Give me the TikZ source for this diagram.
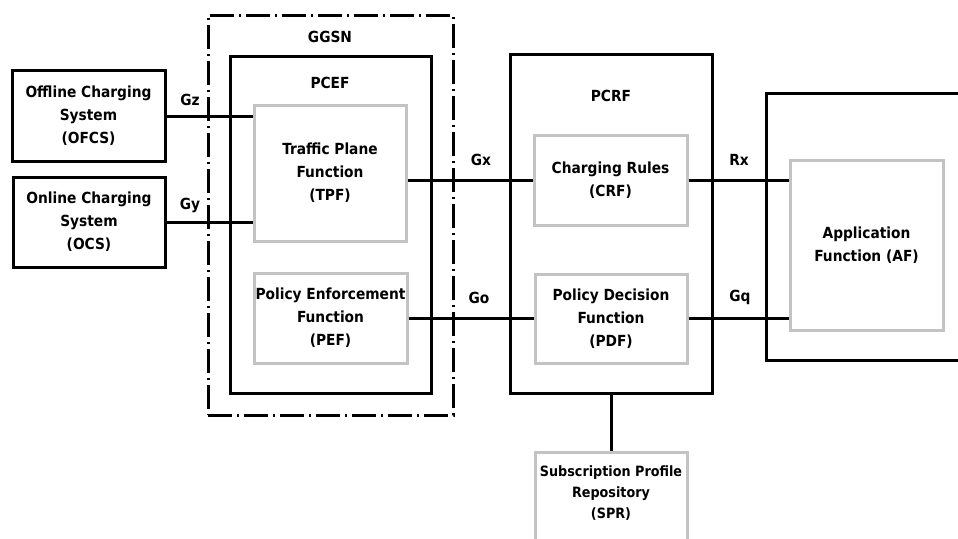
\documentclass[tikz,border=0pt]{standalone}
\usepackage{fontspec}
\setmainfont{DejaVu Sans Condensed}
\usepackage{tikz}
\usetikzlibrary{positioning}

\definecolor{boxgray}{RGB}{195,195,195}

\begin{document}
\begin{tikzpicture}[x=1pt,y=-1pt,
    every node/.style={font=\bfseries\fontsize{15.3}{23}\selectfont, align=center, inner sep=0pt},
    unit/.style={draw, line width=3pt},
    func/.style={draw=boxgray, line width=3pt},
    group/.style={draw, line width=3pt, dash pattern=on 24pt off 5pt on 2pt off 5pt},
    link/.style={line width=3pt}]

\useasboundingbox (0,0) rectangle (958,538);
\clip (0,0) rectangle (958,538);

\node [group, minimum width=245, minimum height=400] (ggsn) at (330.5,215) {};
\node [unit, minimum width=201, minimum height=337] (pcef) at (330.5,224.5) {};
\node [unit, minimum width=202, minimum height=339] (pcrf) at (611,223.5) {};
\node [unit, minimum width=300, minimum height=267] (afbox) at (916,226.5) {};

\node (ggsnlabel) at (330,37) {GGSN};
\node (pceflabel) at (330,83) {PCEF};
\node (pcrflabel) at (611,96) {PCRF};

\node [unit, minimum width=153, minimum height=91] (ofcs) at (88.5,116) {Offline Charging\\System\\(OFCS)};
\node [unit, minimum width=152, minimum height=90] (ocs) at (89,222) {Online Charging\\System\\(OCS)};

\node [func, minimum width=152, minimum height=136] (tpf) at (330,173) {Traffic Plane\\Function\\(TPF)};
\node [func, minimum width=153, minimum height=90] (pef) at (330.5,318) {Policy Enforcement\\Function\\(PEF)};
\node [func, minimum width=153, minimum height=90] (crf) at (610.5,180) {Charging Rules\\(CRF)};
\node [func, minimum width=152, minimum height=89] (pdf) at (611,318.5) {Policy Decision\\Function\\(PDF)};
\node [func, minimum width=153, minimum height=170] (af) at (866.5,245) {Application\\Function (AF)};
\node [func, minimum width=152, minimum height=110, anchor=north] (spr) at (611,451) {};
\node [font=\bfseries\fontsize{14.2}{21}\selectfont] (sprtext) at ([yshift=-42pt]spr.north) {Subscription Profile\\Repository\\(SPR)};

\node (gz) at (190,100) {Gz};
\node (gy) at (190,205) {Gy};
\node (gx) at (481,160) {Gx};
\node (go) at (479,298) {Go};
\node (rx) at (739,160) {Rx};
\node (gq) at (740,297) {Gq};

\draw [link] (ofcs.east) -- (ofcs.east -| tpf.west);
\draw [link] (ocs.east) -- (ocs.east -| tpf.west);
\draw [link] (crf.west -| tpf.east) -- (crf.west);
\draw [link] (pef.east) -- (pef.east -| pdf.west);
\draw [link] (crf.east) -- (crf.east -| af.west);
\draw [link] (pdf.east) -- (pdf.east -| af.west);
\draw [link] (pcrf.south) -- (spr.north);

\end{tikzpicture}
\end{document}
